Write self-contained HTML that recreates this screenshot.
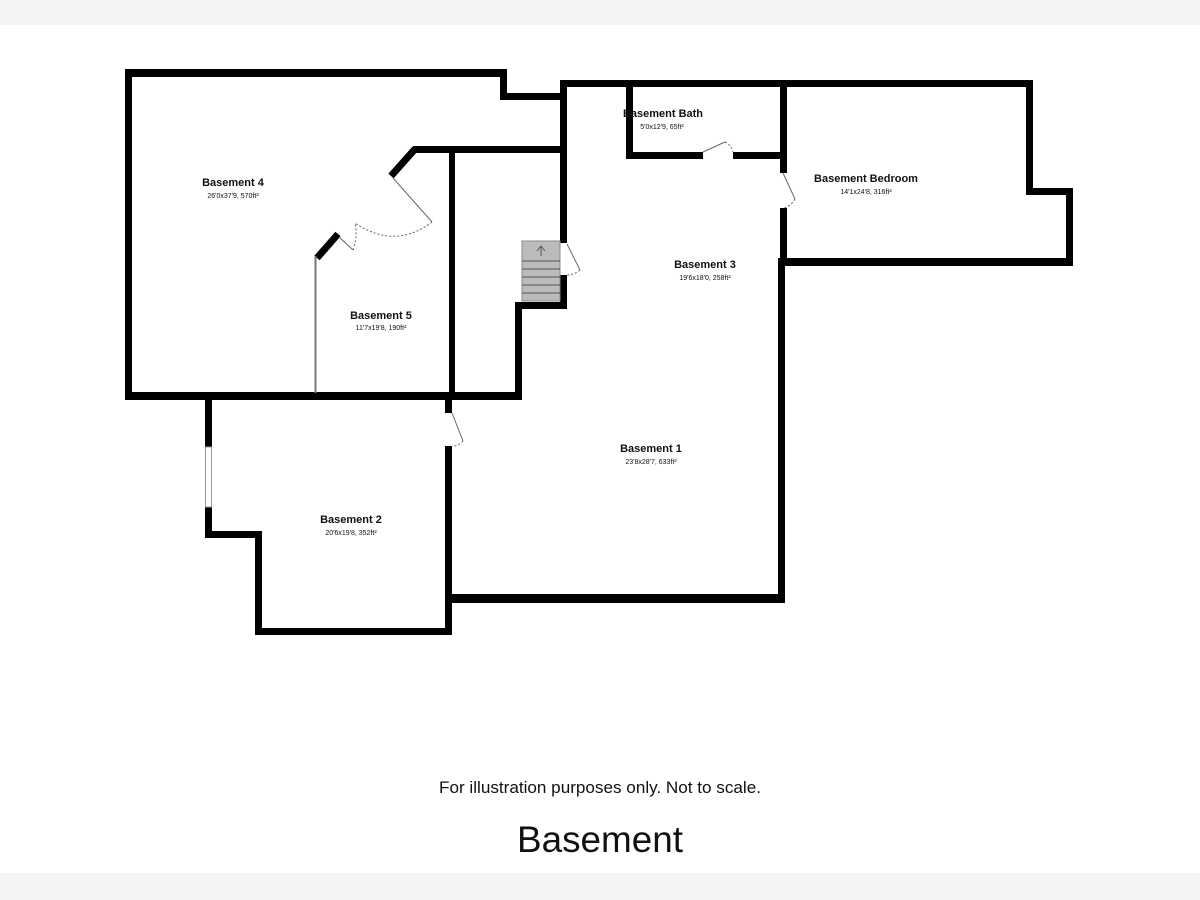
<!DOCTYPE html>
<html><head><meta charset="utf-8"><style>
html,body{margin:0;padding:0;background:#fff;}
svg{display:block;}
</style></head><body>
<svg width="1200" height="900" viewBox="0 0 1200 900" xmlns="http://www.w3.org/2000/svg" font-family="Liberation Sans, Arial, sans-serif">
<rect x="0" y="0" width="1200" height="900" fill="#fff"/>
<rect x="0" y="0" width="1200" height="25" fill="#f4f3f6"/>
<rect x="0" y="873" width="1200" height="27" fill="#f4f3f6"/>
<g fill="#000">
<rect x="125" y="69" width="382" height="8"/>
<rect x="125" y="69" width="7" height="331"/>
<rect x="500" y="69" width="7" height="31"/>
<rect x="500" y="93" width="67" height="7"/>
<rect x="560" y="80" width="7" height="163"/>
<rect x="560" y="275" width="7" height="34"/>
<rect x="515" y="302" width="52" height="7"/>
<rect x="515" y="302" width="7" height="98"/>
<rect x="125" y="392" width="397" height="8"/>
<rect x="449" y="146" width="6" height="254"/>
<rect x="413" y="146" width="154" height="7"/>
<rect x="560" y="80" width="473" height="7"/>
<rect x="626" y="80" width="7" height="79"/>
<rect x="626" y="152" width="77" height="7"/>
<rect x="733" y="152" width="53" height="7"/>
<rect x="780" y="80" width="7" height="93"/>
<rect x="780" y="208" width="7" height="58"/>
<rect x="1026" y="80" width="7" height="115"/>
<rect x="1026" y="188" width="47" height="7"/>
<rect x="1066" y="188" width="7" height="78"/>
<rect x="778" y="258" width="295" height="8"/>
<rect x="778" y="258" width="7" height="345"/>
<rect x="445" y="594" width="340" height="9"/>
<rect x="445" y="400" width="7" height="13"/>
<rect x="445" y="446" width="7" height="189"/>
<rect x="205" y="400" width="7" height="47"/>
<rect x="205" y="507" width="7" height="31"/>
<rect x="205" y="531" width="57" height="7"/>
<rect x="255" y="531" width="7" height="104"/>
<rect x="255" y="628" width="197" height="7"/>
</g>
<rect x="205.5" y="447" width="6" height="60" fill="#fff" stroke="#999" stroke-width="1"/>
<line x1="415" y1="149" x2="391" y2="176" stroke="#000" stroke-width="7"/>
<line x1="338" y1="234" x2="317" y2="258" stroke="#000" stroke-width="7"/>
<line x1="315.5" y1="256" x2="315.5" y2="393" stroke="#777" stroke-width="2"/>
<g fill="none" stroke="#666" stroke-width="1">
<line x1="393" y1="178" x2="432" y2="222"/>
<path d="M432,222 Q395,250 355,223" stroke-dasharray="2,2"/>
<line x1="339" y1="237" x2="353" y2="250"/>
<path d="M353,250 Q358,236 355,223" stroke-dasharray="2,2"/>
<line x1="567" y1="244" x2="580" y2="270"/>
<path d="M580,270 Q574,275 567,275" stroke-dasharray="2,2"/>
<line x1="703" y1="152" x2="725" y2="142"/>
<path d="M725,142 Q731,145 733,152" stroke-dasharray="2,2"/>
<line x1="783" y1="173" x2="795" y2="199"/>
<path d="M795,199 Q790,207 783,208" stroke-dasharray="2,2"/>
<line x1="452" y1="413" x2="463" y2="441"/>
<path d="M463,441 Q459,446 452,446" stroke-dasharray="2,2"/>
</g>
<rect x="522" y="241" width="38" height="60" fill="#bbb" stroke="#888" stroke-width="1"/>
<g stroke="#555" stroke-width="1">
<line x1="522" y1="261" x2="560" y2="261"/>
<line x1="522" y1="269" x2="560" y2="269"/>
<line x1="522" y1="277" x2="560" y2="277"/>
<line x1="522" y1="285" x2="560" y2="285"/>
<line x1="522" y1="293" x2="560" y2="293"/>
<path d="M537,251 L541,246 L545,251 M541,246 L541,256" fill="none"/>
</g>
<g text-anchor="middle" fill="#111">
<text x="233" y="186" font-size="11" font-weight="bold">Basement 4</text>
<text x="233" y="198" font-size="7">26'0x37'9, 570ft²</text>
<text x="381" y="319" font-size="11" font-weight="bold">Basement 5</text>
<text x="381" y="330" font-size="7">11'7x19'8, 190ft²</text>
<text x="663" y="117" font-size="11" font-weight="bold">Basement Bath</text>
<text x="662" y="129" font-size="7">5'0x12'9, 65ft²</text>
<text x="866" y="182" font-size="11" font-weight="bold">Basement Bedroom</text>
<text x="866" y="194" font-size="7">14'1x24'8, 316ft²</text>
<text x="705" y="268" font-size="11" font-weight="bold">Basement 3</text>
<text x="705" y="280" font-size="7">19'6x18'0, 258ft²</text>
<text x="651" y="452" font-size="11" font-weight="bold">Basement 1</text>
<text x="651" y="464" font-size="7">23'8x28'7, 633ft²</text>
<text x="351" y="523" font-size="11" font-weight="bold">Basement 2</text>
<text x="351" y="535" font-size="7">20'6x19'8, 352ft²</text>
<text x="600" y="793" font-size="17" textLength="322" lengthAdjust="spacingAndGlyphs">For illustration purposes only. Not to scale.</text>
<text x="600" y="852" font-size="37" textLength="166" lengthAdjust="spacingAndGlyphs">Basement</text>
</g>
</svg>
</body></html>
